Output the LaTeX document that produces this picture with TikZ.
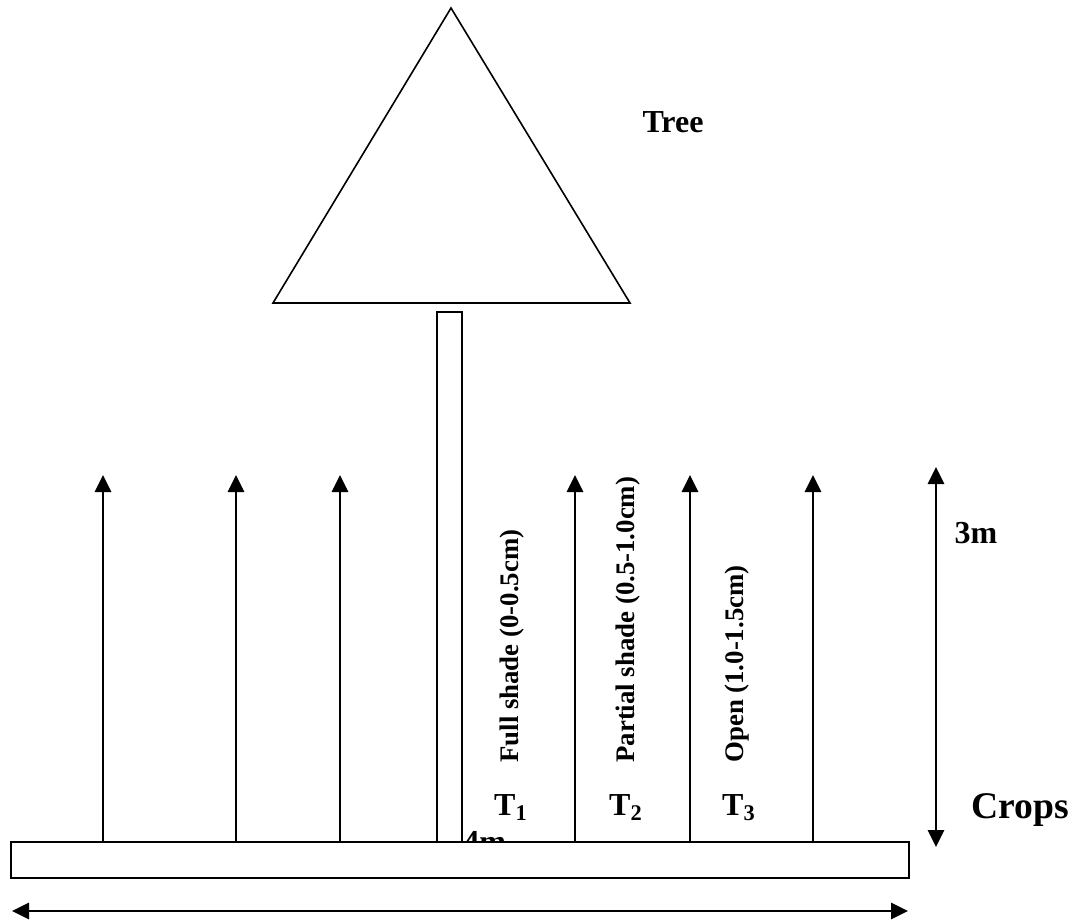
\documentclass[tikz,border=0pt]{standalone}
\usepackage{fontspec}
\setmainfont{Liberation Serif}
\usetikzlibrary{arrows.meta}

\begin{document}
\begin{tikzpicture}[x=0.5pt,y=-0.5pt,>={Triangle[length=8.5pt,width=8pt]},
  lbl/.style={font=\bfseries\fontsize{16}{19}\selectfont,anchor=base,inner sep=0pt},
  rlbl/.style={font=\bfseries\fontsize{13.4}{16}\selectfont,rotate=90,anchor=west,inner sep=0pt}]
\useasboundingbox (0,0) rectangle (1079,919);
%tree
\coordinate (apex) at (451,8);
\coordinate (bl) at (273,303);
\coordinate (br) at (630,303);
\draw[line width=0.8pt] (apex)--(bl)--(br)--cycle;
\draw[line width=0.8pt] (437,312) rectangle (462,842);
\node[lbl] (tree) at (673,133) {Tree};
%labels
\node[lbl,anchor=base west] (four) at (463,852) {4m};
\node[rlbl] (full) at (512,763) {Full shade (0-0.5cm)};
\node[rlbl] (part) at (628,763) {Partial shade (0.5-1.0cm)};
\node[rlbl] (open) at (737,763) {Open (1.0-1.5cm)};
\node[lbl] (t1) at (511,815) {T\textsubscript{1}};
\node[lbl] (t2) at (626,815) {T\textsubscript{2}};
\node[lbl] (t3) at (739,815) {T\textsubscript{3}};
%field
\draw[line width=0.8pt,fill=white] (11,842) rectangle (909,878);
%crops
\foreach \x/\n in {103/a,236/b,340/c,575/d,690/e,813/f}{
\coordinate (\n0) at (\x,842);
\coordinate (\n1) at (\x,475);
\draw[->,line width=1.4pt] (\n0)--(\n1);
}
%dimensions
\coordinate (h0) at (936,467);
\coordinate (h1) at (936,847);
\draw[<->,line width=1.4pt] (h0)--(h1);
\node[lbl] (three) at (976,543) {3m};
\node[lbl,font=\bfseries\fontsize{18.8}{22}\selectfont] (crops) at (1020,818) {Crops};
\coordinate (w0) at (12,911);
\coordinate (w1) at (908,911);
\draw[<->,line width=1.4pt] (w0)--(w1);
\end{tikzpicture}
\end{document}
